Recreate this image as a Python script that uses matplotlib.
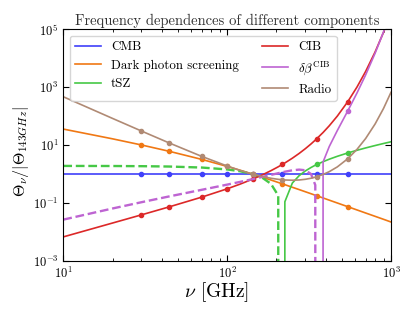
import numpy as np
import matplotlib
matplotlib.use('Agg')
import matplotlib.pyplot as plt
from matplotlib.ticker import NullLocator

plt.rcParams['font.family'] = 'serif'
plt.rcParams['font.serif'] = ['cmr10']
plt.rcParams['mathtext.fontset'] = 'cm'
plt.rcParams['axes.formatter.use_mathtext'] = True
plt.rcParams['font.size'] = 10

# frequencies of the curves [GHz]
nu = [10, 20, 30, 44, 70, 100, 120, 143, 165, 185, 205, 225, 250, 275, 300,
      325, 345, 385, 420, 470, 545, 620, 700, 800, 900, 1000]
# Planck channels (points)
planck_nu = [30, 44, 70, 100, 143, 217, 353, 545]

# Theta_nu / |Theta_143|, negative values are drawn dashed
cmb_nu = [10, 1000]
cmb = [1.0, 1.0]
dark = [35.9, 16.5, 10.14, 6.19, 3.22, 1.842, 1.358, 1.0, 0.772, 0.625, 0.515,
        0.431, 0.351, 0.292, 0.246, 0.210, 0.186, 0.150, 0.126, 0.1007, 0.0749,
        0.0579, 0.0454, 0.0348, 0.0275, 0.0222]
tsz = [-1.917, -1.903, -1.878, -1.827, -1.685, -1.450, -1.255, -1.0, -0.729,
       -0.463, -0.182, 0.111, 0.492, 0.884, 1.285, 1.692, 2.03, 2.686, 3.273,
       4.114, 5.381, 6.649, 8.003, 9.695, 11.39, 13.08]
cib = [0.00679, 0.0205, 0.0392, 0.0731, 0.1604, 0.3105, 0.451, 0.67, 0.958,
       1.313, 1.788, 2.426, 3.544, 5.171, 7.544, 11.01, 14.92, 27.38, 46.70,
       100.4, 318.4, 1015, 3506, 16570, 78530, 372500]
dbeta = [-0.0268, -0.0651, -0.1070, -0.1684, -0.2872, -0.4334, -0.5388, -0.67,
         -0.806, -0.939, -1.075, -1.209, -1.353, -1.429, -1.358, -1.007, -0.42,
         2.63, 8.98, 31.8, 153.1, 632.5, 2656, 15010, 81340, 429200]
radio = [468.8, 83.5, 30.70, 12.10, 4.087, 1.902, 1.342, 1.0, 0.818, 0.719,
         0.660, 0.627, 0.615, 0.627, 0.662, 0.720, 0.786, 0.971, 1.217, 1.770,
         3.407, 7.144, 16.93, 54.0, 184.8, 669.3]

cmb_pts = [1.0, 1.0, 1.0, 1.0, 1.0, 1.0, 1.0, 1.0]
dark_pts = [10.14, 6.19, 3.22, 1.842, 1.0, 0.462, 0.178, 0.0749]
tsz_pts = [-1.878, -1.827, -1.685, -1.450, -1.0, -0.0075, 2.154, 5.381]
cib_pts = [0.0392, 0.0731, 0.1604, 0.3105, 0.67, 2.148, 16.83, 318.4]
dbeta_pts = [-0.107, -0.168, -0.287, -0.433, -0.67, -0.539, 0.0, 153.1]
radio_pts = [30.70, 12.10, 4.087, 1.902, 1.0, 0.638, 0.815, 3.407]

components = [
    ('CMB', cmb_nu, cmb, cmb_pts, '#4040fa'),
    ('Dark photon screening', nu, dark, dark_pts, '#f07814'),
    ('tSZ', nu, tsz, tsz_pts, '#46c846'),
    ('CIB', nu, cib, cib_pts, '#dc2828'),
    (r'$\delta\beta^{\rm CIB}$', nu, dbeta, dbeta_pts, '#be64d2'),
    ('Radio', nu, radio, radio_pts, '#b08a74'),
]

fig = plt.figure(figsize=(4.15, 3.11), dpi=100)
ax = fig.add_axes([0.1525, 0.1608, 0.7897, 0.745])
ax.set_xscale('log')
ax.set_yscale('log')

for name, x, vals, pts, color in components:
    v = np.array(vals, dtype=float)
    # zeros get clipped by the log axis, like the original
    pos = np.where(v > 0, v, 0.0)
    neg = np.where(v < 0, -v, 0.0)
    ax.plot(x, pos, color=color, lw=1.2, label=name)
    if (neg > 0).any():
        ax.plot(x, neg, color=color, lw=1.7, ls='--')
    p = np.array(pts, dtype=float)
    m = p > 0
    ax.plot(np.array(planck_nu)[m], p[m], 'o', color=color, ms=3, lw=0)

ax.set_xlim(10, 1000)
ax.set_ylim(1e-3, 1e5)
ax.set_yticks([1e-3, 1e-1, 1e1, 1e3, 1e5])
ax.yaxis.set_minor_locator(NullLocator())
ax.tick_params(which='both', direction='in', top=True, right=True,
               labelsize=9)
ax.tick_params(which='major', length=4)
ax.tick_params(which='minor', length=2)

ax.set_xlabel(r'$\nu$ [GHz]', fontsize=14)
ax.set_ylabel(r'$\Theta_\nu/|\Theta_{143GHz}|$', fontsize=11.5)
ax.xaxis.set_label_coords(0.4675, -0.085)
ax.yaxis.set_label_coords(-0.10, 0.47)
ax.set_title('Frequency dependences of different components', pad=3,
             fontsize=10.5, color='#333333')
ax.legend(ncol=2, loc='upper left', fontsize=9.3, columnspacing=1.8)

fig.savefig('out.png', dpi=100)
